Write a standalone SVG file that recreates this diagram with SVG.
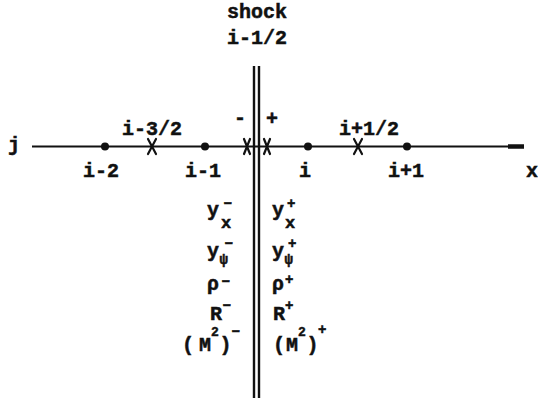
<svg xmlns="http://www.w3.org/2000/svg" width="538" height="401" viewBox="0 0 538 401">
<style>
text{font-family:"Liberation Mono","DejaVu Sans Mono",monospace;font-weight:bold;fill:#111;stroke:#111;stroke-width:0.5;font-size:20px}
.m{text-anchor:middle}
.sub{font-size:17px}
.sup{font-size:16px}
.s2{font-size:14px}
.s3{font-size:13px}
.ln{stroke:#111;fill:none}
.dot{fill:#111}
.xm{stroke:#111;stroke-width:2.2;fill:none;stroke-linecap:round}
</style>
<rect width="538" height="401" fill="#fff"/>
<g id="connectors">
<line class="ln" x1="32" y1="146.5" x2="512" y2="146.5" stroke-width="2"/>
<line class="ln" x1="508" y1="146.5" x2="524" y2="146.5" stroke-width="4.5"/>
</g>
<g id="shock">
<line class="ln" x1="254" y1="66" x2="254" y2="398" stroke-width="2.4"/>
<line class="ln" x1="259" y1="66" x2="259" y2="398" stroke-width="2.4"/>
<text class="m" x="257" y="18">shock</text>
<text class="m" x="257" y="44">i-1/2</text>
</g>
<g id="node-j"><text class="m" x="14" y="151">j</text></g>
<g id="node-i-2"><circle class="dot" cx="105" cy="146.5" r="4"/><text class="m" x="101" y="177">i-2</text></g>
<g id="node-i-3-2"><path class="xm" d="M148,139 L156,154 M156,139 L148,154"/><text class="m" x="152" y="135">i-3/2</text></g>
<g id="node-i-1"><circle class="dot" cx="205" cy="146.5" r="4"/><text class="m" x="203" y="177">i-1</text></g>
<g id="node-minus"><path class="xm" d="M244,139 L250,154 M250,139 L244,154"/><text class="m" x="240" y="124">-</text></g>
<g id="node-plus"><path class="xm" d="M264,139 L270,154 M270,139 L264,154"/><text class="m" x="272" y="125">+</text></g>
<g id="node-i"><circle class="dot" cx="308" cy="146.5" r="4"/><text class="m" x="305" y="177">i</text></g>
<g id="node-i+1-2"><path class="xm" d="M354,139 L362,154 M362,139 L354,154"/><text class="m" x="369" y="135">i+1/2</text></g>
<g id="node-i+1"><circle class="dot" cx="407" cy="146.5" r="4"/><text class="m" x="406" y="177">i+1</text></g>
<g id="node-x"><text class="m" x="532" y="177">x</text></g>
<g id="left-values">
<text x="207" y="216">y</text><text class="sub" x="221" y="228">x</text><text class="sup" x="223" y="207">–</text>
<text x="207" y="257">y</text><text class="s2" x="219.5" y="264">ψ</text><text class="sup" x="224" y="247">–</text>
<text x="207" y="290">ρ</text><text class="sup" x="221" y="285">–</text>
<text x="210" y="320">R</text><text class="sup" x="222" y="309">–</text>
<text x="182" y="351">(</text><text x="199" y="351">M</text><text class="s3" x="211" y="336">2</text><text x="219.5" y="351">)</text><text class="sup" x="231" y="335">–</text>
</g>
<g id="right-values">
<text x="272" y="216">y</text><text class="sub" x="285" y="228">x</text><text class="s2" x="287" y="208">+</text>
<text x="272" y="257">y</text><text class="s2" x="284.5" y="264">ψ</text><text class="s2" x="288" y="248">+</text>
<text x="272" y="290">ρ</text><text class="s2" x="285" y="284">+</text>
<text x="273" y="320">R</text><text class="s2" x="285" y="310">+</text>
<text x="273" y="351">(</text><text x="286" y="351">M</text><text class="s3" x="298" y="336">2</text><text x="306.5" y="351">)</text><text class="s2" x="318" y="334">+</text>
</g>
</svg>
